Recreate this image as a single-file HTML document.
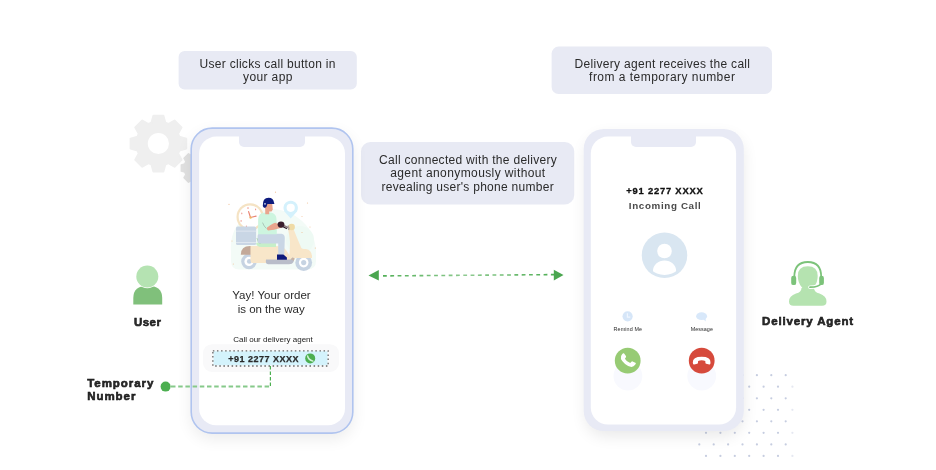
<!DOCTYPE html>
<html><head><meta charset="utf-8">
<style>
html,body{margin:0;padding:0;background:#fff;}
body{width:936px;height:470px;overflow:hidden;position:relative;font-family:"Liberation Sans",sans-serif;}
svg{position:absolute;left:0;top:0;will-change:transform;}
.t{font-family:"Liberation Sans",sans-serif;fill:#2b2b2b;}
</style></head><body>
<svg width="936" height="470" viewBox="0 0 936 470">
<defs>
<filter id="sh" x="-30%" y="-30%" width="160%" height="160%"><feGaussianBlur stdDeviation="8"/></filter>
<filter id="sh2" x="-30%" y="-30%" width="160%" height="160%"><feGaussianBlur stdDeviation="6"/></filter>
</defs>
<!-- gears -->
<path fill="#efefef" stroke="#efefef" stroke-width="2" stroke-linejoin="round" fill-rule="evenodd" d="M151.5,122.7 L153.4,115.8 L163.4,115.8 L165.3,122.7 L168.3,124.0 L174.5,120.5 L181.5,127.5 L178.0,133.7 L179.3,136.7 L186.2,138.6 L186.2,148.6 L179.3,150.5 L178.0,153.5 L181.5,159.7 L174.5,166.7 L168.3,163.2 L165.3,164.5 L163.4,171.4 L153.4,171.4 L151.5,164.5 L148.5,163.2 L142.3,166.7 L135.3,159.7 L138.8,153.5 L137.5,150.5 L130.6,148.6 L130.6,138.6 L137.5,136.7 L138.8,133.7 L135.3,127.5 L142.3,120.5 L148.5,124.0Z"/>
<circle cx="158.4" cy="143.5" r="10.6" fill="#fff"/>
<path fill="#e1e1e1" stroke="#e1e1e1" stroke-width="1.4" stroke-linejoin="round" d="M194.0,154.6 L195.0,151.1 L201.4,151.1 L202.4,154.6 L204.7,155.6 L207.9,153.8 L212.4,158.3 L210.6,161.5 L211.6,163.8 L215.1,164.8 L215.1,171.2 L211.6,172.2 L210.6,174.5 L212.4,177.7 L207.9,182.2 L204.7,180.4 L202.4,181.4 L201.4,184.9 L195.0,184.9 L194.0,181.4 L191.7,180.4 L188.5,182.2 L184.0,177.7 L185.8,174.5 L184.8,172.2 L181.3,171.2 L181.3,164.8 L184.8,163.8 L185.8,161.5 L184.0,158.3 L188.5,153.8 L191.7,155.6Z"/>

<!-- dot grid -->
<g fill="#c6cde0"><circle cx="699.3" cy="375.2" r="1.1"/><circle cx="713.7" cy="375.2" r="1.1"/><circle cx="728.1" cy="375.2" r="1.1"/><circle cx="742.5" cy="375.2" r="1.1"/><circle cx="756.9" cy="375.2" r="1.1"/><circle cx="771.3" cy="375.2" r="1.1"/><circle cx="785.7" cy="375.2" r="1.1"/><circle cx="706.0" cy="386.7" r="1.1"/><circle cx="720.4" cy="386.7" r="1.1"/><circle cx="734.8" cy="386.7" r="1.1"/><circle cx="749.2" cy="386.7" r="1.1"/><circle cx="763.6" cy="386.7" r="1.1"/><circle cx="778.0" cy="386.7" r="1.1"/><circle cx="792.4" cy="386.7" r="1.1" opacity="0.45"/><circle cx="699.3" cy="398.3" r="1.1"/><circle cx="713.7" cy="398.3" r="1.1"/><circle cx="728.1" cy="398.3" r="1.1"/><circle cx="742.5" cy="398.3" r="1.1"/><circle cx="756.9" cy="398.3" r="1.1"/><circle cx="771.3" cy="398.3" r="1.1"/><circle cx="785.7" cy="398.3" r="1.1"/><circle cx="706.0" cy="409.8" r="1.1"/><circle cx="720.4" cy="409.8" r="1.1"/><circle cx="734.8" cy="409.8" r="1.1"/><circle cx="749.2" cy="409.8" r="1.1"/><circle cx="763.6" cy="409.8" r="1.1"/><circle cx="778.0" cy="409.8" r="1.1"/><circle cx="792.4" cy="409.8" r="1.1" opacity="0.45"/><circle cx="699.3" cy="421.3" r="1.1"/><circle cx="713.7" cy="421.3" r="1.1"/><circle cx="728.1" cy="421.3" r="1.1"/><circle cx="742.5" cy="421.3" r="1.1"/><circle cx="756.9" cy="421.3" r="1.1"/><circle cx="771.3" cy="421.3" r="1.1"/><circle cx="785.7" cy="421.3" r="1.1"/><circle cx="706.0" cy="432.8" r="1.1"/><circle cx="720.4" cy="432.8" r="1.1"/><circle cx="734.8" cy="432.8" r="1.1"/><circle cx="749.2" cy="432.8" r="1.1"/><circle cx="763.6" cy="432.8" r="1.1"/><circle cx="778.0" cy="432.8" r="1.1"/><circle cx="792.4" cy="432.8" r="1.1" opacity="0.45"/><circle cx="699.3" cy="444.4" r="1.1"/><circle cx="713.7" cy="444.4" r="1.1"/><circle cx="728.1" cy="444.4" r="1.1"/><circle cx="742.5" cy="444.4" r="1.1"/><circle cx="756.9" cy="444.4" r="1.1"/><circle cx="771.3" cy="444.4" r="1.1"/><circle cx="785.7" cy="444.4" r="1.1"/><circle cx="706.0" cy="455.9" r="1.1"/><circle cx="720.4" cy="455.9" r="1.1"/><circle cx="734.8" cy="455.9" r="1.1"/><circle cx="749.2" cy="455.9" r="1.1"/><circle cx="763.6" cy="455.9" r="1.1"/><circle cx="778.0" cy="455.9" r="1.1"/><circle cx="792.4" cy="455.9" r="1.1" opacity="0.45"/>
</g>

<!-- info boxes -->
<rect x="178.6" y="50.9" width="178.2" height="38.7" rx="6" fill="#e8eaf4"/>
<rect x="361" y="141.9" width="213.2" height="62.6" rx="9.5" fill="#e8eaf4"/>
<rect x="551.6" y="46.6" width="220.4" height="47.4" rx="7" fill="#e8eaf4"/>
<g class="t" font-size="12" text-anchor="middle" fill="#1f1f1f">
<text x="267.5" y="68" textLength="135.8" lengthAdjust="spacing">User clicks call button in</text>
<text x="267.75" y="81.2" textLength="49.3" lengthAdjust="spacing">your app</text>
<text x="467.9" y="163.6" textLength="177.8" lengthAdjust="spacing">Call connected with the delivery</text>
<text x="467.7" y="177.1" textLength="155.0" lengthAdjust="spacing">agent anonymously without</text>
<text x="467.6" y="190.6" textLength="172.20000000000002" lengthAdjust="spacing">revealing user's phone number</text>
<text x="662.3" y="67.6" textLength="175.4" lengthAdjust="spacing">Delivery agent receives the call</text>
<text x="662" y="80.9" textLength="145.8" lengthAdjust="spacing">from a temporary number</text>
</g>

<!-- left phone -->
<rect x="191" y="133" width="162" height="306" rx="21" fill="#000" opacity="0.075" filter="url(#sh)"/>
<rect x="191.2" y="128.1" width="161.6" height="305" rx="21" fill="#e8eaf5" stroke="#b0c4ef" stroke-width="1.6"/>
<rect x="199.1" y="136.6" width="145.9" height="288.7" rx="17" fill="#fff"/>
<path d="M239,135 H305 V142 a5,5 0 0 1 -5,5 H244 a5,5 0 0 1 -5,-5Z" fill="#e8eaf5"/>

<!-- right phone -->
<rect x="586" y="136" width="157" height="300" rx="20" fill="#000" opacity="0.09" filter="url(#sh)"/>
<rect x="583.7" y="129" width="160.1" height="302" rx="20" fill="#e8eaf5"/>
<rect x="590.8" y="136.6" width="145.3" height="287.9" rx="17" fill="#fff"/>
<path d="M631,135 H696 V142 a5,5 0 0 1 -5,5 H636 a5,5 0 0 1 -5,-5Z" fill="#e8eaf5"/>

<!-- ===== illustration ===== -->
<g id="illus">
<!-- bg -->
<path d="M231,252 Q229,226 250,214 Q270,204 292,214 Q314,226 316,250 L316,261 Q316,269.5 307,269.5 L239,269.5 Q231,269.5 231,261Z" fill="#f3fbf7"/>
<circle cx="300" cy="240" r="14" fill="#eefaf4"/>
<!-- pin -->
<path d="M290.7,218.6 L284.4,211.4 A7.2,7.2 0 1 1 297,211.4Z" fill="#d4f1fc"/>
<circle cx="290.7" cy="207.8" r="4.1" fill="#fff"/>
<!-- clock -->
<circle cx="250.1" cy="216.9" r="13.6" fill="#f5e3c4"/>
<circle cx="250.1" cy="216.9" r="11.4" fill="#fff"/>
<g stroke="#ef9a90" stroke-width="1.1" stroke-linecap="round">
<path d="M248,207.6v0.8 M255.6,209v0.8 M241.8,213v0.8 M241.1,220.5v0.8 M246.4,226v0.6"/>
</g>
<path d="M250.5,217.5 L248.6,211.6 M250.5,217.5 L256.1,216.2" stroke="#ea8575" stroke-width="1.2" stroke-linecap="round" fill="none"/>
<circle cx="250.6" cy="217.6" r="1.2" fill="#efbb62"/>
<!-- box -->
<rect x="236" y="226.6" width="20.1" height="18.4" rx="1.6" fill="#c9d6e5"/>
<rect x="236" y="230.6" width="20.1" height="1" fill="#dfe7f0"/>
<rect x="236" y="242" width="20.1" height="1" fill="#dfe7f0"/>
<!-- rear wheel -->
<circle cx="249" cy="261.4" r="7.8" fill="#c6d3e2"/>
<circle cx="249" cy="261.4" r="4.6" fill="#fff"/>
<circle cx="249.3" cy="261.4" r="2.4" fill="#c6d3e2"/>
<!-- front wheel -->
<circle cx="303.7" cy="262.6" r="8.4" fill="#c6d3e2"/>
<circle cx="303.7" cy="262.6" r="4.8" fill="#fff"/>
<circle cx="303.7" cy="262.6" r="2.6" fill="#c6d3e2"/>
<!-- rear fender -->
<path d="M240.8,254.8 Q240.8,246 250,246 L252,246 L252,254.8Z" fill="#c3a999"/>
<!-- scooter body -->
<path d="M250.5,246 L276,246 Q283,246 286,250 L290,256 L290.5,263 L252,263 Q250,262 250.5,258 Z" fill="#f8e6c9"/>
<path d="M288,229 L293.5,229 Q297,238 300.5,246 Q301,249 304,249 L306,249 Q311.5,250 312,256 L312,258 L296,258 Q293,258 292,260 L289,260 Q290,250 290,242 Q289.5,235 288,229Z" fill="#f8e6c9"/>
<!-- footboard -->
<path d="M266,259.4 L290.5,259.4 L292.5,257.5 L294.5,258.5 L293.5,262 Q292.5,264.2 289,264.2 L268,264.2 Q265.8,264.2 265.8,261.8Z" fill="#b9bdc9"/>
<path d="M290.6,259.2 L292.8,257.6 L294.6,258.6 L293.8,260.8Z" fill="#c9b3a3"/>
<!-- seat -->
<path d="M257.5,242.4 L276,242.4 L276,247 L261,247 Q257,246.6 256,243.4Z" fill="#c6efc8"/>
<path d="M257,238 Q257.5,242 260.5,244" stroke="#9ccf9e" stroke-width="0.9" fill="none"/>
<!-- pants -->
<path d="M259.5,233.7 L281.5,233.7 Q284.8,234.2 284.8,238 L284.3,254.8 L278.2,254.8 L278.2,243.4 L260,243.4 Q257.6,243.4 257.6,240 L257.6,236 Q257.6,233.7 259.5,233.7Z" fill="#c9d6e5"/>
<!-- shoe -->
<path d="M277,254.6 L283.4,254.6 L286.9,257.6 L286.9,259.8 L277,259.8Z" fill="#0e1a7c"/>
<!-- shirt -->
<path d="M261,213.5 Q263,212.5 267,212.5 L271,212.5 Q275.8,213.5 276.4,218 L276.8,226 L276.8,234.3 L258.1,234.3 L258.1,220 Q258.3,215 261,213.5Z" fill="#cdf5df"/>
<path d="M262.5,222.6 Q264,226.5 266.5,228.6" stroke="#90a69c" stroke-width="0.6" fill="none"/>
<!-- neck + face -->
<path d="M265,204 L272.2,204 L272.8,209.5 L271.5,211.6 L269.2,211.6 L269.2,214.3 L265.3,214.3Z" fill="#e9a58e"/>
<!-- helmet -->
<path d="M262.8,206 Q262.4,197.8 268.6,197.7 Q273.4,197.7 274,202.5 L274.4,203.9 L267.4,203.9 L266.6,206.6 L265,208 Q263,207.6 262.8,206Z" fill="#0e1b7d"/>
<circle cx="265" cy="203.8" r="0.9" fill="#cdd6f2"/>
<!-- forearm -->
<path d="M268,230.4 Q266.3,229.5 267,227.4 L269,226.2 L279,223 L282,224.2 L282,227.6 L274,229.8Z" fill="#e9a58e"/>
<path d="M268.5,227 Q272,223 276.5,222.8 L276.8,226.5Z" fill="#e9a58e"/>
<!-- gloves -->
<path d="M283.5,225.5 L289.5,228.3" stroke="#8f7e82" stroke-width="1.8" stroke-linecap="round"/>
<ellipse cx="281" cy="224.6" rx="3.4" ry="3.1" fill="#3a1e2e"/>
<path d="M283,226.8 L286.5,228.6" stroke="#2f1c2a" stroke-width="1.1" stroke-linecap="round"/>
<!-- headlight -->
<ellipse cx="291.6" cy="227" rx="3.3" ry="3.3" fill="#efdba6"/>
<path d="M288,225.5 Q289.5,228 288.6,230" stroke="#b0a49a" stroke-width="1.4" fill="none"/>
<!-- tiny decorative dots -->
<g fill="#f1c39a">
<circle cx="229" cy="204.3" r="0.65"/><circle cx="275.5" cy="192.2" r="0.6"/><circle cx="307.5" cy="203" r="0.6"/>
<circle cx="302" cy="232.5" r="0.55"/><circle cx="233.3" cy="264" r="0.55"/><circle cx="315.3" cy="248" r="0.55"/>
<circle cx="302" cy="216.5" r="0.5"/><circle cx="232" cy="241" r="0.5"/><circle cx="310" cy="227" r="0.5"/>
</g>
</g>

<!-- left phone texts -->
<g class="t" text-anchor="middle" fill="#222">
<text x="271.5" y="298.8" font-size="11.5">Yay! Your order</text>
<text x="271.2" y="312.7" font-size="11.5">is on the way</text>
<text x="273" y="342" font-size="8" fill="#222">Call our delivery agent</text>
</g>
<rect x="203" y="344.2" width="136" height="27.7" rx="9" fill="#f9f9fa"/>
<rect x="213.5" y="351.3" width="114" height="14" rx="1" fill="#d4f3fc"/><rect x="212.85" y="350.85" width="115.3" height="15.15" fill="none" stroke="#666" stroke-width="1.3" stroke-dasharray="1.5 2.6"/>
<text class="t" x="263.6" y="362.2" font-size="9" font-weight="bold" letter-spacing="0.5" text-anchor="middle" fill="#222" stroke="#222" stroke-width="0.25">+91 2277 XXXX</text>
<circle cx="310.2" cy="358.4" r="5" fill="#4caf50"/>
<path d="M307.6,355.9 Q308.2,359.8 312.9,361.1" stroke="#d2f2d8" stroke-width="1.5" stroke-linecap="round" fill="none"/>

<!-- temporary number connector -->
<path d="M171,386.6 H270.4" stroke="#86c98a" stroke-width="2" stroke-dasharray="4.5 2.7"/>
<path d="M270.4,366 V386" stroke="#4caf50" stroke-width="1.2" stroke-dasharray="3.5 2"/>
<circle cx="165.6" cy="386.6" r="5" fill="#4caf50"/>

<!-- user icon -->
<path d="M133.3,304.4 V298 Q133.3,285.7 147.7,285.7 Q162.2,285.7 162.2,298 V304.4Z" fill="#80c07b"/>
<circle cx="147.3" cy="276.5" r="11.8" fill="#fff"/>
<circle cx="147.3" cy="276.5" r="11" fill="#b5e3b2"/>
<g class="t" font-weight="bold" fill="#111" stroke="#111" stroke-width="0.55">
<text x="147.7" y="326.2" font-size="11.5" text-anchor="middle" letter-spacing="0.5">User</text>
<text x="87.2" y="386.9" font-size="11.5" letter-spacing="0.95">Temporary</text>
<text x="87.2" y="399.8" font-size="11.5" letter-spacing="0.95">Number</text>
<text x="808" y="325" font-size="11.5" text-anchor="middle" letter-spacing="0.85">Delivery Agent</text>
</g>

<!-- double arrow -->
<linearGradient id="lg" gradientUnits="userSpaceOnUse" x1="379" y1="0" x2="554" y2="0"><stop offset="0" stop-color="#4fae54"/><stop offset="0.5" stop-color="#8fca91"/><stop offset="1" stop-color="#4fae54"/></linearGradient>
<path d="M383,275.9 L554,274.6" stroke="url(#lg)" stroke-width="1.6" stroke-dasharray="3.8 3.5"/>
<path d="M368.5,275.4 L378.8,270 L378.8,280.6Z" fill="#4aa64f"/>
<path d="M563.5,275 L553.8,269.8 L553.8,280.6Z" fill="#4aa64f"/>

<!-- right phone content -->
<g class="t" text-anchor="middle" font-weight="bold">
<text x="664.5" y="193.9" font-size="9.4" textLength="76.5" lengthAdjust="spacing" fill="#111" stroke="#111" stroke-width="0.3">+91 2277 XXXX</text>
<text x="664.8" y="208.6" font-size="9.8" textLength="72" lengthAdjust="spacing" fill="#4a4a4a">Incoming Call</text>
</g>
<circle cx="664.5" cy="255.3" r="22.75" fill="#d9e6f1"/>
<circle cx="664.5" cy="251" r="7.3" fill="#fff"/>
<clipPath id="avc"><circle cx="664.5" cy="255.3" r="19.6"/></clipPath>
<path d="M652.9,280 V271.4 A11.65,11 0 0 1 676.2,271.4 V280 Z" fill="#fff" clip-path="url(#avc)"/>
<circle cx="627.6" cy="316.3" r="5.1" fill="#d6e6f8"/>
<path d="M627.4,313.3 V317.1 H630.3" stroke="#f0f6fe" stroke-width="1.2" fill="none"/>
<ellipse cx="701.6" cy="316.2" rx="5.5" ry="3.9" fill="#d8e8fa"/>
<path d="M703,319 L705.8,321.4 L705.6,318.2Z" fill="#d8e8fa"/>
<g class="t" text-anchor="middle" font-size="5.4" fill="#333">
<text x="627.8" y="330.7" textLength="28.6" lengthAdjust="spacing">Remind Me</text>
<text x="701.8" y="330.7" textLength="22.2" lengthAdjust="spacing">Message</text>
</g>
<circle cx="627.9" cy="376" r="14.4" fill="#f8f9fe"/>
<circle cx="701.7" cy="376" r="14.4" fill="#f8f9fe"/>
<circle cx="627.7" cy="360.7" r="12.9" fill="#97cb74"/>
<circle cx="701.7" cy="360.7" r="12.9" fill="#d64a3c"/>
<path transform="translate(627.4,361) rotate(219) scale(0.95)" d="M-8.9,2 Q-9.2,-3.9 0,-3.9 Q9.1,-3.9 8.8,2 L8.6,3.5 Q8.3,4.1 7.6,3.9 L4.5,3.1 Q3.8,2.9 3.7,2.1 L3.6,0.3 Q0,-1.2 -3.6,0.3 L-3.7,2.1 Q-3.8,2.9 -4.5,3.1 L-7.6,3.9 Q-8.3,4.1 -8.6,3.5 Z" fill="#fff"/>
<path transform="translate(701.7,360.6)" d="M-8.9,2 Q-9.2,-3.9 0,-3.9 Q9.1,-3.9 8.8,2 L8.6,3.5 Q8.3,4.1 7.6,3.9 L4.5,3.1 Q3.8,2.9 3.7,2.1 L3.6,0.3 Q0,-1.2 -3.6,0.3 L-3.7,2.1 Q-3.8,2.9 -4.5,3.1 L-7.6,3.9 Q-8.3,4.1 -8.6,3.5 Z" fill="#fff"/>

<!-- delivery agent icon -->
<path d="M801.5,288 Q801.5,292 796,293.6 Q789,296 789,301.5 Q789,305.8 793.5,305.8 L822,305.8 Q826.5,305.8 826.5,301.5 Q826.5,296 819.5,293.6 Q814,292 814,288 Z" fill="#b5e3b0"/>
<path d="M797.8,276 Q797.8,266.2 807.8,266.2 Q817.7,266.2 817.7,276 Q817.7,283 813.5,287.5 Q810.5,290.6 807.8,290.6 Q805,290.6 802,287.5 Q797.8,283 797.8,276Z" fill="#b5e3b0"/>
<path d="M794.3,277 Q794.3,262 807.8,262 Q821.2,262 821.2,277" stroke="#7cc37a" stroke-width="1.8" fill="none"/>
<path d="M821,283.5 Q819.5,287 810,287.2" stroke="#fff" stroke-width="3.6" fill="none" stroke-linecap="round"/>
<rect x="791.2" y="275.7" width="5" height="9.4" rx="2.2" fill="#7cc37a"/>
<rect x="819.2" y="275.7" width="4.7" height="9.4" rx="2.2" fill="#7cc37a"/>
<path d="M821,283.5 Q819.5,287 810,287.2" stroke="#7cc37a" stroke-width="1.8" fill="none" stroke-linecap="round"/>
</svg>
</body></html>
